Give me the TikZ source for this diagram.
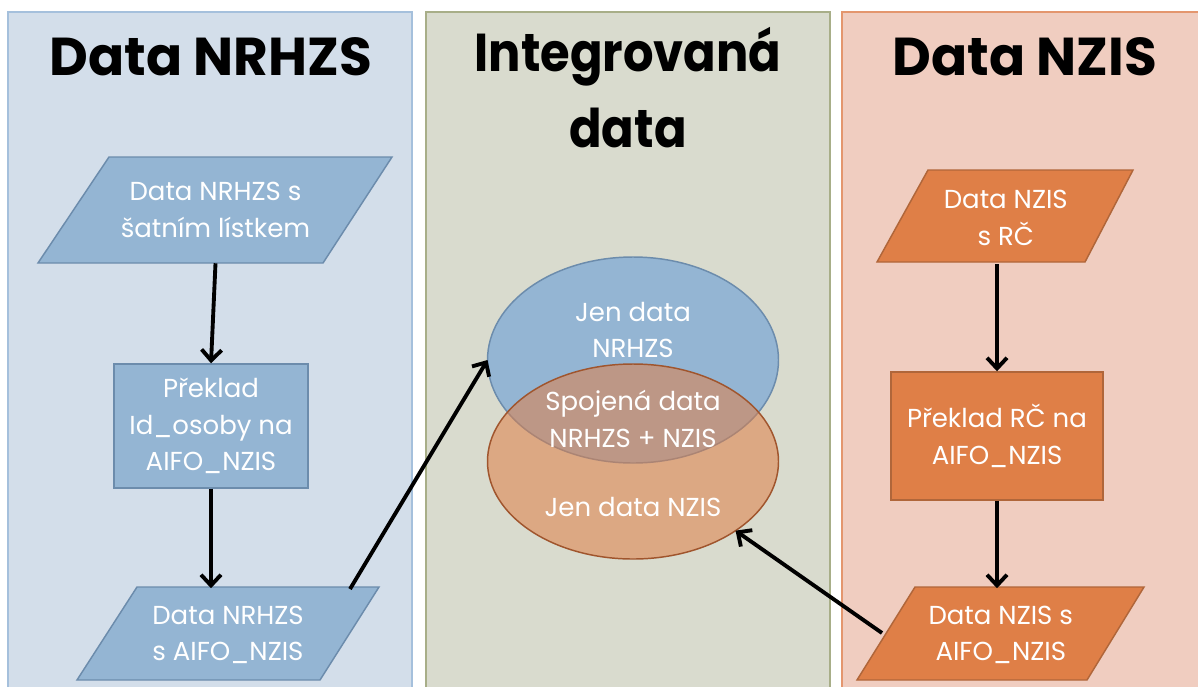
\documentclass[tikz,border=0pt]{standalone}
\usepackage{fontspec}
\setmainfont{Poppins}
\usetikzlibrary{arrows.meta,shapes.geometric}
\definecolor{lbg}{RGB}{211,222,234}
\definecolor{lborder}{RGB}{165,192,220}
\definecolor{mbg}{RGB}{217,219,206}
\definecolor{mborder}{RGB}{168,174,136}
\definecolor{rbg}{RGB}{240,205,192}
\definecolor{rborder}{RGB}{228,150,110}
\definecolor{bfill}{RGB}{148,181,211}
\definecolor{bline}{RGB}{108,140,172}
\definecolor{ofill}{RGB}{223,127,71}
\definecolor{oline}{RGB}{176,102,58}
\definecolor{eline}{RGB}{160,85,45}
\tikzset{
  panel/.style={line width=1pt},
  title/.style={font=\fontsize{40}{55}\selectfont\bfseries, text=black, align=center, inner sep=0pt},
  txt/.style={text=white, font=\fontsize{19.5}{27.5}\selectfont, align=center, inner sep=0pt},
  bluebox/.style={draw=bline, fill=bfill, line width=1.1pt},
  orangebox/.style={draw=oline, fill=ofill, line width=1.1pt},
  arr/.style={-{Straight Barb[length=8pt,width=15pt]}, line width=2.9pt, black},
}
\begin{document}
\begin{tikzpicture}[x=0.75pt,y=-0.75pt]
\useasboundingbox (0,0) rectangle (1198,686);
\clip (0,0) rectangle (1198,686);
\fill[white] (0,0) rectangle (1198,686);
% panels
\draw[panel, draw=lborder, fill=lbg] (8,12) rectangle (412,720);
\draw[panel, draw=mborder, fill=mbg] (426,12) rectangle (830,720);
\draw[panel, draw=rborder, fill=rbg] (842,12) rectangle (1230,720);
% titles
\node[title, anchor=base] (tl) at (211,75) {Data NRHZS};
\node[title, xscale=0.9, font=\fontsize{40}{57}\selectfont\bfseries] (tm) at (628,88) {Integrovaná\\data};
\node[title, anchor=base] (tr) at (1025,75) {Data NZIS};
% left column
\draw[bluebox] (109,157) -- (392,157) -- (323,263) -- (38,263) -- cycle;
\node[txt, minimum height=79.5pt, minimum width=150pt] (p1) at (215.5,210) {Data NRHZS s\\šatním lístkem};
\node[txt, bluebox, minimum width=145.5pt, minimum height=93pt] (b1) at (211,426) {Překlad\\Id\_osoby na\\AIFO\_NZIS};
\draw[bluebox] (137,587) -- (379,587) -- (320,680) -- (77,680) -- cycle;
\node[txt, minimum height=69.75pt, minimum width=130pt] (p2) at (228,635) {Data NRHZS\\s AIFO\_NZIS};
% middle ellipses
\node[ellipse, draw=bline, fill=bfill, line width=1.1pt, minimum width=218.25pt, minimum height=154.5pt, inner sep=0pt, outer sep=0pt] (e1) at (633,360) {};
\node[ellipse, draw=eline, fill=ofill, fill opacity=0.55, line width=1.1pt, minimum width=218.25pt, minimum height=146.25pt, inner sep=0pt, outer sep=0pt] (e2) at (633,461.5) {};
\node[txt] (t1) at (633,330) {Jen data\\NRHZS};
\node[txt] (t2) at (633,419) {Spojená data\\NRHZS + NZIS};
\node[txt] (t3) at (633,507) {Jen data NZIS};
% right column
\draw[orangebox] (928,170) -- (1133,170) -- (1085,262) -- (877,262) -- cycle;
\node[txt, minimum height=69pt, minimum width=110pt] (p3) at (1005.75,218) {Data NZIS\\s RČ};
\node[txt, orangebox, minimum width=159pt, minimum height=96pt] (b2) at (997,436) {Překlad RČ na\\AIFO\_NZIS};
\draw[orangebox] (915,587) -- (1144,587) -- (1087,680) -- (857,680) -- cycle;
\node[txt, minimum height=69.75pt, minimum width=120pt] (p4) at (1000.75,635) {Data NZIS s\\AIFO\_NZIS};
% connectors
\coordinate (q1) at (350,589);
\coordinate (q2) at (882,633);
\draw[arr] (p1.south) -- (b1.north);
\draw[arr] (b1.south) -- (b1.south |- p2.north);
\draw[arr] (b2.north |- p3.south) -- (b2.north);
\draw[arr] (b2.south) -- (b2.south |- p4.north);
\draw[arr] (q1) -- (e1.west);
\draw[arr] (q2) -- (e2.-34);
\end{tikzpicture}
\end{document}
